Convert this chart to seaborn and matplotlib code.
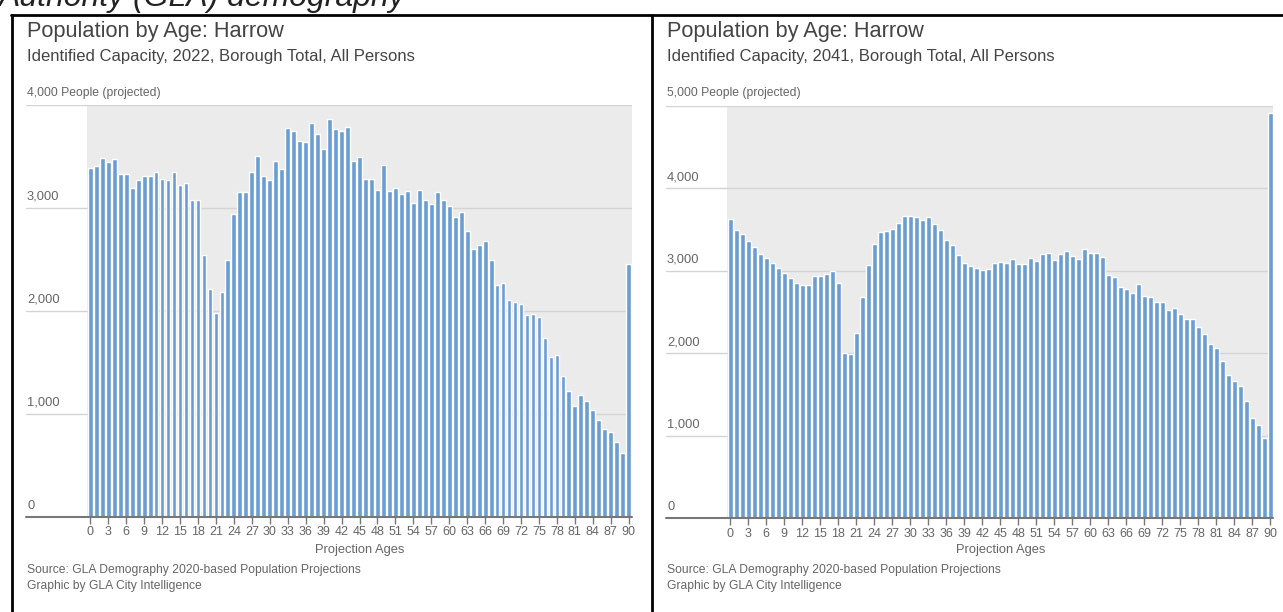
import matplotlib
matplotlib.use("Agg")
import matplotlib.pyplot as plt
import matplotlib.transforms as mtransforms
from matplotlib.lines import Line2D
import seaborn as sns

# population by single year of age, Harrow, identified capacity projection
ages = list(range(91))
pop_2022 = [
    3383, 3402, 3480, 3445, 3474, 3325, 3325, 3195, 3270, 3312,
    3312, 3351, 3279, 3273, 3351, 3221, 3240, 3078, 3075, 2543,
    2212, 1979, 2183, 2488, 2935, 3153, 3153, 3344, 3500, 3305,
    3270, 3458, 3373, 3772, 3743, 3646, 3642, 3821, 3714, 3568,
    3860, 3762, 3743, 3782, 3451, 3490, 3276, 3279, 3169, 3412,
    3162, 3188, 3136, 3166, 3049, 3169, 3078, 3033, 3149, 3071,
    3016, 2913, 2961, 2776, 2595, 2640, 2672, 2491, 2254, 2270,
    2108, 2085, 2063, 1962, 1969, 1943, 1738, 1554, 1573, 1362,
    1223, 1077, 1181, 1122, 1035, 934, 856, 827, 727, 616,
    2449,
]
pop_2041 = [
    3625, 3487, 3439, 3358, 3285, 3204, 3155, 3095, 3026, 2969,
    2909, 2844, 2820, 2820, 2929, 2933, 2965, 2994, 2852, 2006,
    1990, 2245, 2686, 3066, 3321, 3463, 3475, 3507, 3580, 3661,
    3665, 3645, 3612, 3649, 3564, 3491, 3366, 3309, 3188, 3087,
    3054, 3026, 3002, 3022, 3095, 3099, 3091, 3139, 3078, 3083,
    3147, 3111, 3196, 3212, 3127, 3200, 3232, 3172, 3139, 3261,
    3216, 3208, 3167, 2941, 2921, 2807, 2783, 2723, 2832, 2690,
    2682, 2625, 2625, 2520, 2544, 2476, 2411, 2411, 2322, 2233,
    2112, 2067, 1905, 1735, 1667, 1602, 1416, 1218, 1125, 967,
    4911,
]
years = ["2022", "2041"]
y_max = [4000, 5000]
y_ticks = [[0, 1000, 2000, 3000], [0, 1000, 2000, 3000, 4000]]
x_ticks = list(range(0, 91, 3))

W, H = 1283, 612
BAR = "#6a9ed3"
GRID = "#d4d4d4"
TXT = "#666666"

sns.set_theme(style="white")
plt.rcParams["font.family"] = ["Liberation Sans", "DejaVu Sans"]

fig = plt.figure(figsize=(W / 100, H / 100), dpi=100)


def fx(px):
    return px / W


def fy(py):
    return 1 - py / H


# heading of the page above the charts, cut off by the screenshot's top edge
fig.text(fx(-1), fy(6), "Authority (GLA) demography", fontsize=23,
         style="italic", color="#222222", va="baseline", ha="left")

# panel borders
for x0, y0, x1, y1 in [(11, 14.5, 1283, 14.5), (11.5, 14.5, 11.5, 612),
                       (651.5, 14.5, 651.5, 611)]:
    fig.add_artist(Line2D([fx(x0), fx(x1)], [fy(y0), fy(y1)],
                          transform=fig.transFigure, color="black", lw=2))

panels = [
    # left px of text/grid, grey start, grey end, grey top, baseline
    dict(left=26, g0=87.3, g1=631.7, top=104.7, base=516.7),
    dict(left=666, g0=727.3, g1=1273.3, top=105.7, base=518.0),
]

for i, p in enumerate(panels):
    vals = pop_2022 if i == 0 else pop_2041
    ax = fig.add_axes([fx(p["left"]), fy(p["base"]),
                       fx(p["g1"]) - fx(p["left"]),
                       (p["base"] - p["top"]) / H])
    step = (p["g1"] - p["g0"]) / 91.0
    xl = -0.5 - (p["g0"] - p["left"]) / step

    ax.axvspan(-0.5, 90.5, color="#ebebeb", zorder=0, lw=0)
    for t in range(1000, y_max[i] + 1, 1000):
        ax.axhline(t, color=GRID, lw=1, zorder=1)

    sns.barplot(x=ages, y=vals, color=BAR, saturation=1, width=0.8,
                ax=ax, zorder=2)
    ax.axhline(0, color="#777777", lw=1.5, zorder=3, clip_on=False)

    ax.set_xlim(xl, 90.5)
    ax.set_ylim(0, y_max[i])
    for s in ax.spines.values():
        s.set_visible(False)
    ax.set_facecolor("none")
    ax.set_yticks([])
    ax.set_xticks(x_ticks)
    ax.set_xticklabels([str(t) for t in x_ticks], fontsize=9, color=TXT)
    ax.tick_params(axis="x", length=5, width=1, color="#777777", pad=2,
                   bottom=True)
    ax.set_xlabel("")
    ax.set_ylabel("")

    # y labels sit just above the gridlines, left aligned
    trans = mtransforms.offset_copy(
        mtransforms.blended_transform_factory(ax.transAxes, ax.transData),
        fig=fig, x=1.0, y=5.0, units="dots")
    for t in y_ticks[i]:
        ax.text(0, t, f"{t:,}", transform=trans, fontsize=9.3, color=TXT,
                ha="left", va="bottom")

    tx = p["left"] + 1
    fig.text(fx(tx), fy(37), "Population by Age: Harrow", fontsize=15.7,
             color="#444444", va="baseline")
    fig.text(fx(tx), fy(61),
             f"Identified Capacity, {years[i]}, Borough Total, All Persons",
             fontsize=12, color="#444444", va="baseline")
    fig.text(fx(tx), fy(93), f"{y_max[i]:,} People (projected)",
             fontsize=8.7, color=TXT, va="center")
    fig.text(fx((p["g0"] + p["g1"]) / 2), fy(550), "Projection Ages",
             fontsize=9.3, color=TXT, ha="center", va="center")
    fig.text(fx(tx), fy(570),
             "Source: GLA Demography 2020-based Population Projections",
             fontsize=8.75, color=TXT, va="center")
    fig.text(fx(tx), fy(586), "Graphic by GLA City Intelligence",
             fontsize=8.75, color=TXT, va="center")

fig.savefig("out.png", dpi=100)
